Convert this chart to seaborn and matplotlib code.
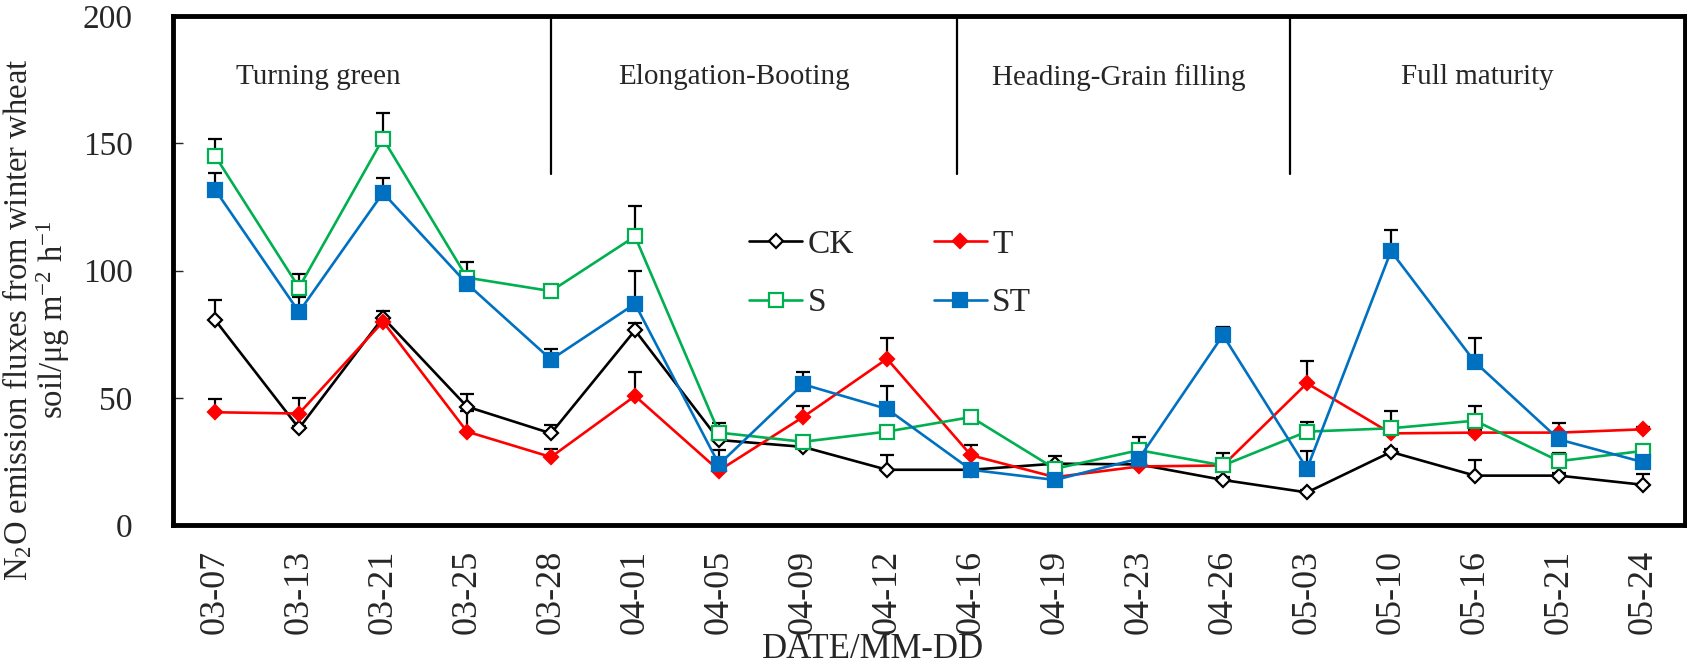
import numpy as np
import pandas as pd
import matplotlib
matplotlib.use("Agg")
import matplotlib.pyplot as plt
import seaborn as sns

dates = ["03-07", "03-13", "03-21", "03-25", "03-28", "04-01", "04-05", "04-09", "04-12",
         "04-16", "04-19", "04-23", "04-26", "05-03", "05-10", "05-16", "05-21", "05-24"]

ck = [80.6, 38.0, 81.5, 46.5, 36.0, 76.5, 33.4, 30.7, 21.7, 21.7, 24.1, 23.8, 17.7, 12.8, 28.7, 19.4, 19.4, 15.8]
t_ = [44.3, 43.8, 79.9, 36.7, 26.7, 50.7, 21.4, 42.4, 65.3, 27.4, 18.8, 23.0, 23.4, 55.7, 36.0, 36.3, 36.3, 37.6]
s_ = [145.1, 93.3, 151.8, 97.2, 91.9, 113.4, 36.3, 32.7, 36.7, 42.4, 22.1, 29.4, 23.4, 36.7, 38.0, 41.0, 25.1, 29.1]
st = [131.8, 83.7, 130.5, 94.8, 65.0, 86.9, 23.8, 55.3, 45.6, 21.7, 17.7, 26.1, 74.6, 22.1, 107.6, 64.0, 33.6, 24.7]

ck_err = [8.0, 1.0, 2.7, 5.0, 3.4, 2.7, 1.0, 1.0, 6.0, 1.0, 3.0, 1.0, 1.0, 1.0, 1.0, 6.3, 1.0, 4.3]
t_err = [5.3, 6.2, 1.0, 8.0, 3.3, 9.6, 1.0, 4.3, 8.2, 4.0, 1.0, 1.0, 1.0, 8.9, 1.0, 1.0, 3.7, 1.0]
s_err = [6.4, 5.5, 9.9, 6.0, 1.0, 12.0, 3.7, 1.0, 1.0, 1.0, 1.0, 5.3, 4.9, 3.6, 6.7, 5.7, 3.2, 1.0]
st_err = [6.7, 6.0, 6.0, 1.0, 4.3, 13.0, 5.6, 4.7, 9.1, 1.0, 1.0, 1.0, 3.3, 7.0, 8.3, 9.5, 1.0, 1.0]

series_names = ["CK", "T", "S", "ST"]
phase_names = ["Turning green", "Elongation-Booting", "Heading-Grain filling", "Full maturity"]
y_ticks = [0, 50, 100, 150, 200]

sns.set_style("white")
plt.rcParams["font.family"] = ["Liberation Serif", "DejaVu Serif"]
plt.rcParams["mathtext.fontset"] = "custom"
plt.rcParams["mathtext.rm"] = "Liberation Serif"
plt.rcParams["mathtext.it"] = "Liberation Serif:italic"

fig = plt.figure(figsize=(16.87, 6.64), dpi=100)
ax = fig.add_axes([173/1687, 1-525/664, (1685-173)/1687, (525-16)/664])

xpos = np.arange(len(dates))
df = pd.DataFrame({"x": xpos, "CK": ck, "T": t_, "S": s_, "ST": st})

styles = {
    "CK": dict(color="black", marker="D", markersize=7.5, markerfacecolor="white", markeredgecolor="black"),
    "T": dict(color="#FF0000", marker="D", markersize=7.5, markerfacecolor="#FF0000", markeredgecolor="#FF0000"),
    "S": dict(color="#00B050", marker="s", markersize=10, markerfacecolor="white", markeredgecolor="#00B050"),
    "ST": dict(color="#0070C0", marker="s", markersize=10, markerfacecolor="#0070C0", markeredgecolor="#0070C0"),
}
errs = {"CK": ck_err, "T": t_err, "S": s_err, "ST": st_err}

for name in series_names:
    ax.errorbar(xpos, df[name], yerr=[np.zeros(len(xpos)), errs[name]], fmt="none",
                ecolor="black", elinewidth=1.6, capsize=5, capthick=1.6, zorder=1)

handles = {}
for i, name in enumerate(["CK", "T", "S", "ST"]):
    sns.lineplot(data=df, x="x", y=name, ax=ax, linewidth=1.9, markeredgewidth=1.6,
                 label=name, zorder=3 + i, **styles[name])
for line, name in zip(ax.get_lines()[-4:], ["CK", "T", "S", "ST"]):
    handles[name] = line

# phase separators and labels
for xb in [4.0, 8.83, 12.8]:
    ax.plot([xb, xb], [138, 200], color="black", lw=1.6, zorder=2)
for xc, txt in zip([1.23, 6.18, 10.76, 15.03], phase_names):
    ax.text(xc, 176, txt, ha="center", va="center", fontsize=21)

ax.set_xlim(-0.5, 17.5)
ax.set_ylim(0, 200)
ax.set_yticks(y_ticks)
ax.set_yticklabels([str(v) for v in y_ticks], fontsize=24)
ax.set_xticks(xpos)
ax.set_xticklabels(dates, rotation=90, fontsize=26)
ax.set_xticks(np.arange(0.5, 17.0, 1.0), minor=True)
ax.tick_params(axis="x", which="major", length=0, pad=18)
ax.tick_params(axis="x", which="minor", direction="in", length=7, width=1.0)
ax.tick_params(axis="y", which="major", direction="in", length=7, width=1.0, pad=29, left=True)
ax.set_xlabel("")
ax.set_ylabel("")
for sp in ax.spines.values():
    sp.set_visible(True)
    sp.set_linewidth(3.5)
    sp.set_color("black")

leg = ax.legend([handles["CK"], handles["S"], handles["T"], handles["ST"]],
                ["CK", "S", "T", "ST"], ncol=2, frameon=False, fontsize=24,
                loc="upper left", bbox_to_anchor=(749/1687, 1-229/664),
                bbox_transform=fig.transFigure, borderpad=0, borderaxespad=0,
                handlelength=1.6, handletextpad=0.15, columnspacing=2.4, labelspacing=0.85)

fig.text(873/1687, 1-650/664, "DATE/MM-DD", ha="center", va="center", fontsize=25)
fig.text(36/1687, 1-320/664,
         "N$_2$O emission fluxes from winter wheat\nsoil/\u03bcg m$^{-2}$ h$^{-1}$",
         rotation=90, ha="center", va="center", fontsize=23.5, linespacing=1.0,
         multialignment="center")

fig.savefig("out.png", dpi=100)
